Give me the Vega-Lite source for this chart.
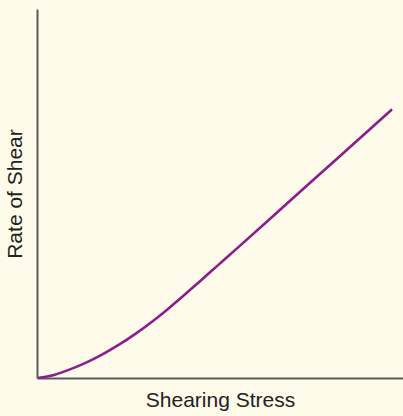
{
  "$schema": "https://vega.github.io/schema/vega-lite/v6.json",
  "autosize": "none",
  "width": 366,
  "height": 369,
  "padding": {"left": 37, "top": 9, "right": 0, "bottom": 38},
  "background": "#fefbea",
  "config": {
    "view": {"stroke": null},
    "axis": {
      "domainColor": "#5a5a5a",
      "domainWidth": 2,
      "ticks": false,
      "labels": false,
      "grid": false,
      "titleFont": "Liberation Sans",
      "titleFontSize": 21,
      "titleFontWeight": "normal",
      "titleColor": "#222222"
    }
  },
  "data": {
    "values": [
      {"stress": 1, "rate": 0},
      {"stress": 15, "rate": 2.5},
      {"stress": 31, "rate": 7.9},
      {"stress": 48, "rate": 14.9},
      {"stress": 65, "rate": 23.4},
      {"stress": 82, "rate": 33.3},
      {"stress": 98, "rate": 43.9},
      {"stress": 115, "rate": 56.3},
      {"stress": 131, "rate": 69.1},
      {"stress": 147, "rate": 82.7},
      {"stress": 163, "rate": 96.8},
      {"stress": 180, "rate": 111.9},
      {"stress": 200, "rate": 129.6},
      {"stress": 250, "rate": 174.5},
      {"stress": 300, "rate": 219.3},
      {"stress": 355, "rate": 268.7}
    ]
  },
  "mark": {"type": "line", "color": "#8b1e8b", "strokeWidth": 2.6, "interpolate": "monotone"},
  "encoding": {
    "x": {"field": "stress", "type": "quantitative", "scale": {"domain": [0, 366], "nice": false}, "axis": {"title": "Shearing Stress", "titlePadding": 11}},
    "y": {"field": "rate", "type": "quantitative", "scale": {"domain": [0, 369], "nice": false}, "axis": {"title": "Rate of Shear", "titlePadding": 12}}
  }
}
